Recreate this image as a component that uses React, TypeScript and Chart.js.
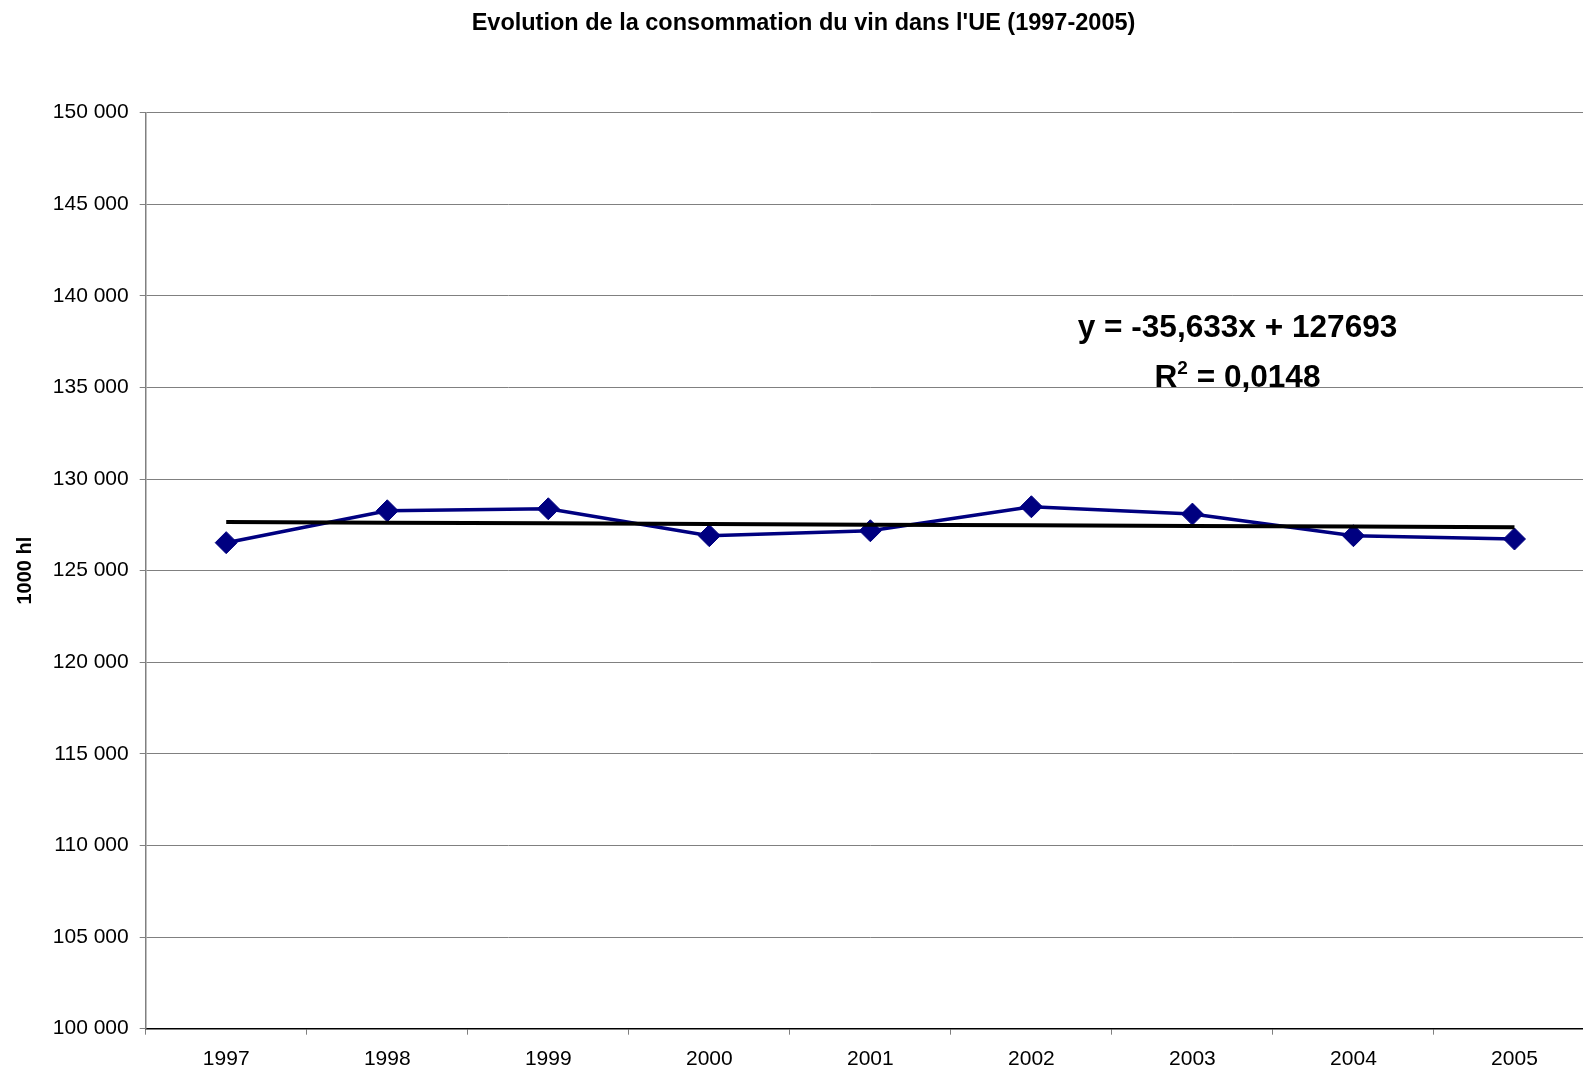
import React, { useEffect, useRef } from 'react';
import { Chart, registerables } from 'chart.js';

Chart.register(...registerables);

// ---- data ----
const years = ['1997', '1998', '1999', '2000', '2001', '2002', '2003', '2004', '2005'];
const consumption = [126530, 128270, 128380, 126910, 127180, 128490, 128090, 126910, 126730];
const trendSlope = -35.633;
const trendIntercept = 127693;
const trendValues = years.map((_, i) => trendIntercept + trendSlope * (i + 1));
const yMin = 100000;
const yMax = 150000;
const yStep = 5000;
const titleText = "Evolution de la consommation du vin dans l'UE (1997-2005)";
const yAxisTitle = '1000 hl';
const equationText = 'y = -35,633x + 127693';
const r2Parts = ['R', '2', ' = 0,0148'];
// annotation anchor, in data space (category index, value)
const annotAnchor = [6.28, 138350, 135650];

const FONT = "'Liberation Sans', Arial, sans-serif";

const equationPlugin = {
  id: 'equation',
  afterDatasetsDraw(chart: any) {
    const { ctx, scales } = chart;
    const x = scales.x;
    const y = scales.y;
    const cx = x.getPixelForValue(annotAnchor[0]);
    const cy1 = y.getPixelForValue(annotAnchor[1]);
    const cy2 = y.getPixelForValue(annotAnchor[2]);
    ctx.save();
    ctx.fillStyle = '#000';
    ctx.textBaseline = 'alphabetic';
    const big = `bold 31.6px ${FONT}`;
    const small = `bold 19px ${FONT}`;
    ctx.font = big;
    ctx.textAlign = 'center';
    ctx.fillText(equationText, cx, cy1 + 11);
    // second line with superscript
    ctx.textAlign = 'left';
    ctx.font = big;
    const wR = ctx.measureText(r2Parts[0]).width;
    const wRest = ctx.measureText(r2Parts[2]).width;
    ctx.font = small;
    const w2 = ctx.measureText(r2Parts[1]).width;
    const total = wR + w2 + wRest;
    let sx = cx - total / 2;
    const base = cy2 + 11;
    ctx.font = big;
    ctx.fillText(r2Parts[0], sx, base);
    sx += wR;
    ctx.font = small;
    ctx.fillText(r2Parts[1], sx, base - 13);
    sx += w2;
    ctx.font = big;
    ctx.fillText(r2Parts[2], sx, base);
    ctx.restore();
  },
};

export default function App() {
  const ref = useRef<HTMLCanvasElement | null>(null);

  useEffect(() => {
    if (!ref.current) return;
    const chart = new Chart(ref.current, {
      type: 'line',
      data: {
        labels: years,
        datasets: [
          {
            label: 'Consommation',
            data: consumption,
            borderColor: '#000080',
            backgroundColor: '#000080',
            borderWidth: 3.5,
            pointStyle: 'rectRot',
            pointRadius: 11,
            pointBorderWidth: 1,
            pointBackgroundColor: '#000080',
            pointBorderColor: '#000080',
            tension: 0,
            order: 2,
          },
          {
            label: 'Tendance',
            data: trendValues,
            borderColor: '#000000',
            borderWidth: 4,
            pointRadius: 0,
            tension: 0,
            order: 1,
          },
        ],
      },
      options: {
        responsive: false,
        animation: false,
        layout: { padding: { left: 0, right: 0, top: 0, bottom: 0 } },
        plugins: {
          legend: { display: false },
          tooltip: { enabled: false },
          title: {
            display: true,
            text: titleText,
            color: '#000',
            font: { family: FONT, size: 23.5, weight: 'bold' },
            padding: { top: 9, bottom: 75.5 },
          },
        },
        scales: {
          x: {
            type: 'category',
            offset: true,
            grid: {
              display: true,
              offset: true,
              drawOnChartArea: false,
              drawTicks: true,
              tickLength: 6,
              color: '#808080',
              lineWidth: 1,
            },
            border: { display: true, color: '#000', width: 1.5 },
            ticks: {
              color: '#000',
              font: { family: FONT, size: 21 },
              padding: 12,
              maxRotation: 0,
              autoSkip: false,
            },
            afterFit: (scale: any) => {
              scale.height = 43.3;
            },
          },
          y: {
            min: yMin,
            max: yMax,
            grid: {
              color: '#808080',
              lineWidth: 1,
              drawTicks: true,
              tickLength: 6,
            },
            border: { display: true, color: '#808080', width: 1.5 },
            ticks: {
              stepSize: yStep,
              color: '#000',
              font: { family: FONT, size: 21 },
              padding: 11,
              callback: (v: any) => Number(v).toLocaleString('en-US').replace(/,/g, ' '),
            },
            title: {
              display: true,
              text: yAxisTitle,
              color: '#000',
              font: { family: FONT, size: 20, weight: 'bold' },
              padding: { top: 13, bottom: 0 },
            },
            afterFit: (scale: any) => {
              scale.width = 145.7;
            },
          },
        },
      },
      plugins: [equationPlugin],
    });
    return () => chart.destroy();
  }, []);

  return (
    <div
      style={{
        position: 'fixed',
        left: 0,
        top: 0,
        width: 1583,
        height: 1072,
        overflow: 'hidden',
        background: '#fff',
      }}
    >
      <canvas ref={ref} width={1607} height={1072} style={{ display: 'block' }} />
    </div>
  );
}
